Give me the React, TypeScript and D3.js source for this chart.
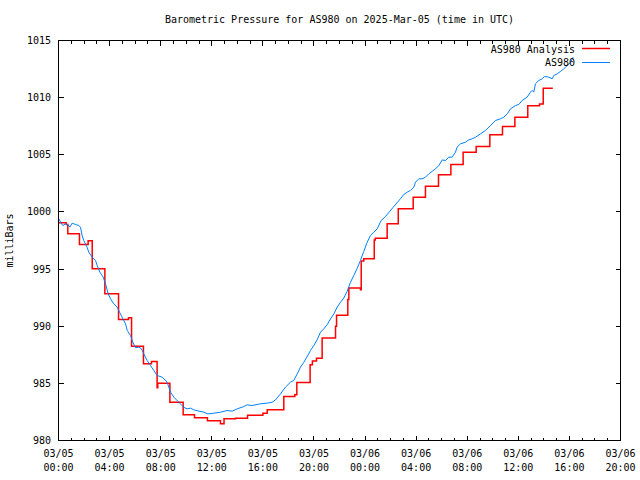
import React from "react";
import * as d3 from "d3";

const TITLE = "Barometric Pressure for AS980 on 2025-Mar-05 (time in UTC)";
const Y_LABEL = "milliBars";
const SERIES_NAMES = ["AS980 Analysis", "AS980"];
const Y_TICKS = [980, 985, 990, 995, 1000, 1005, 1010, 1015];

// hours since 2025-03-05 00:00 UTC
const analysisHours = [
  0, 0.6, 0.73, 1.64, 2.32, 2.64, 3.63, 4.7, 5.48, 5.72, 6.65, 7.28, 7.72, 7.77,
  8.72, 9.76, 10.65, 11.66, 12.68, 12.96, 13.86, 14.8, 16.0, 16.34, 17.64, 18.5,
  18.66, 19.7, 19.88, 20.2, 20.64, 21.69, 21.77, 22.65, 22.73, 23.64, 23.7, 23.9,
  24.72, 24.8, 25.73, 26.6, 27.77, 28.73, 29.75, 30.72, 31.68, 32.7, 33.77, 34.76,
  35.73, 36.74, 37.66, 37.95, 38.7,
];
const analysisValues = [
  999.05, 998.9, 998.08, 997.15, 997.47, 995.02, 992.83, 990.59, 990.73, 988.25,
  986.71, 986.91, 984.61, 985.02, 983.35, 982.25, 981.98, 981.72, 981.46, 981.9,
  981.95, 982.2, 982.39, 982.68, 983.85, 984.0, 985.07, 986.62, 986.95, 987.2,
  988.97, 990.0, 990.95, 992.34, 993.35, 993.2, 995.7, 995.9, 997.55, 997.7,
  998.96, 1000.27, 1001.29, 1002.25, 1003.25, 1004.15, 1005.23, 1005.72, 1006.75,
  1007.47, 1008.29, 1009.28, 1009.45, 1010.83, 1010.83,
];

const obsHours = [
  0.03, 0.16, 0.34, 0.55, 0.81, 0.89, 1.07, 1.33, 1.59, 1.72, 1.85, 1.98, 2.24,
  2.37, 2.64, 2.9, 3.03, 3.24, 3.5, 3.68, 3.89, 4.07, 4.33, 4.59, 4.78, 4.98, 5.25,
  5.38, 5.64, 5.82, 6.03, 6.29, 6.5, 6.68, 6.94, 7.2, 7.46, 7.72, 8.12, 8.51, 8.77,
  9.03, 9.42, 9.81, 10.07, 10.33, 10.6, 10.99, 11.38, 11.69, 12.16, 12.68, 13.2,
  13.6, 13.99, 14.51, 14.77, 15.16, 15.81, 16.34, 16.73, 16.99, 17.38, 17.77,
  18.16, 18.42, 18.69, 18.95, 19.21, 19.47, 19.73, 19.99, 20.25, 20.51, 20.77,
  21.04, 21.3, 21.56, 21.82, 22.08, 22.34, 22.6, 22.86, 23.12, 23.39, 23.64, 23.9,
  24.17, 24.43, 24.69, 24.95, 25.26, 25.6, 25.9, 26.2, 26.5, 26.77, 27.03, 27.3,
  27.56, 27.82, 27.95, 28.21, 28.47, 28.73, 28.99, 29.26, 29.52, 29.78, 30.04,
  30.3, 30.56, 30.82, 31.08, 31.21, 31.47, 31.86, 32.12, 32.39, 32.65, 33.04,
  33.43, 33.82, 34.21, 34.6, 34.86, 35.13, 35.39, 35.78, 36.04, 36.3, 36.69, 36.95,
  37.08, 37.21, 37.34, 37.6, 37.87, 38.05, 38.39, 38.65, 38.78, 39.04, 39.3, 39.56,
  39.83, 40.09, 40.3,
];
const obsValues = [
  999.4, 999.1, 998.81, 998.96, 998.81, 998.67, 999.02, 998.9, 998.81, 998.67,
  997.94, 997.5, 996.91, 996.48, 996.04, 995.75, 995.31, 994.73, 994.29, 993.71,
  992.83, 992.4, 991.96, 991.67, 991.23, 990.79, 990.21, 989.63, 989.19, 988.6,
  988.11, 988.17, 988.02, 987.58, 987.0, 986.56, 986.13, 985.69, 985.54, 985.1,
  984.23, 983.79, 983.35, 982.9, 982.77, 982.83, 982.68, 982.57, 982.48, 982.33,
  982.39, 982.48, 982.62, 982.57, 982.77, 982.97, 983.12, 983.06, 983.21, 983.27,
  983.35, 983.56, 984.08, 984.67, 985.1, 985.25, 985.83, 986.42, 986.85, 987.35,
  987.88, 988.31, 988.81, 989.48, 989.77, 990.15, 990.64, 991.08, 991.67, 992.1,
  992.47, 993.05, 993.85, 994.44, 995.08, 995.75, 996.55, 997.35, 997.94, 998.23,
  998.52, 999.25, 999.6, 1000.0, 1000.4, 1000.8, 1001.15, 1001.52, 1001.73,
  1001.88, 1002.17, 1002.6, 1002.9, 1002.9, 1003.04, 1003.33, 1003.56, 1003.77,
  1004.06, 1004.55, 1004.5, 1004.79, 1004.79, 1005.23, 1005.67, 1005.96, 1006.1,
  1006.31, 1006.4, 1006.54, 1006.83, 1007.13, 1007.56, 1008.0, 1008.15, 1008.29,
  1008.58, 1009.02, 1009.31, 1009.4, 1009.75, 1010.04, 1010.48, 1010.63, 1010.48,
  1011.21, 1011.5, 1011.65, 1011.85, 1011.79, 1011.65, 1011.94, 1012.08, 1012.29,
  1012.52, 1012.81, 1013.1, 1013.54,
];

const T0 = Date.UTC(2025, 2, 5, 0, 0);
const HOUR = 3600e3;
const toDate = (h: number) => new Date(T0 + h * HOUR);

export default function App() {
  const W = 640, H = 480;
  const L = 58.5, R = 620.5, T = 40.5, B = 440.5;
  const x = d3.scaleUtc().domain([toDate(0), toDate(44)]).range([L, R]);
  const y = d3.scaleLinear().domain([980, 1015]).range([B, T]);

  const analysis = analysisHours.map((h, i) => ({ d: toDate(h), v: analysisValues[i] }));
  const obs = obsHours.map((h, i) => ({ d: toDate(h), v: obsValues[i] }));

  const stepLine = d3
    .line<{ d: Date; v: number }>()
    .x((p) => x(p.d))
    .y((p) => y(p.v))
    .curve(d3.curveStepAfter);
  const line = d3
    .line<{ d: Date; v: number }>()
    .x((p) => x(p.d))
    .y((p) => y(p.v));

  const minorTicks = x.ticks(d3.utcHour.every(1)!);
  const majorTicks = x.ticks(d3.utcHour.every(4)!);
  const fmtDate = d3.utcFormat("%m/%d");
  const fmtTime = d3.utcFormat("%H:%M");
  const font = "'DejaVu Sans Mono', 'Liberation Mono', monospace";
  const isMajor = (t: Date) => t.getUTCHours() % 4 === 0;

  return (
    <svg
      width={W}
      height={H}
      style={{ position: "absolute", left: 0, top: 0, background: "#fff" }}
      fontFamily={font}
      fontSize={10}
    >
      <rect x={0} y={0} width={W} height={H} fill="#fff" />
      <text x={(L + R) / 2} y={23} textAnchor="middle" fill="#000">
        {TITLE}
      </text>
      <text
        transform={`translate(13,${(T + B) / 2}) rotate(-90)`}
        textAnchor="middle"
        fill="#000"
      >
        {Y_LABEL}
      </text>

      <g stroke="#000" strokeWidth={1} shapeRendering="crispEdges">
        {minorTicks.map((t, i) => {
          const len = isMajor(t) ? 5 : 3;
          const xx = Math.round(x(t) - 0.5) + 0.5;
          return (
            <g key={"xt" + i}>
              <line x1={xx} x2={xx} y1={B} y2={B - len} />
              <line x1={xx} x2={xx} y1={T} y2={T + len} />
            </g>
          );
        })}
        {Y_TICKS.map((v, i) => {
          const yy = Math.round(y(v) - 0.5) + 0.5;
          return (
            <g key={"yt" + i}>
              <line x1={L} x2={L + 5} y1={yy} y2={yy} />
              <line x1={R} x2={R - 5} y1={yy} y2={yy} />
            </g>
          );
        })}
      </g>

      {Y_TICKS.map((v, i) => (
        <text key={"yl" + i} x={51} y={y(v)} dy="0.35em" textAnchor="end" fill="#000">
          {v}
        </text>
      ))}
      {majorTicks.map((t, i) => (
        <g key={"xl" + i}>
          <text x={x(t)} y={457} textAnchor="middle" fill="#000">
            {fmtDate(t)}
          </text>
          <text x={x(t)} y={471} textAnchor="middle" fill="#000">
            {fmtTime(t)}
          </text>
        </g>
      ))}

      <path d={stepLine(analysis) ?? ""} fill="none" stroke="#ff0000" strokeWidth={1.5} />
      <path d={line(obs) ?? ""} fill="none" stroke="#0080ff" strokeWidth={1} />

      <rect
        x={L}
        y={T}
        width={R - L}
        height={B - T}
        fill="none"
        stroke="#000"
        strokeWidth={1}
        shapeRendering="crispEdges"
      />

      <g>
        <text x={575} y={49} dy="0.35em" textAnchor="end" fill="#000">
          {SERIES_NAMES[0]}
        </text>
        <line x1={582} x2={610} y1={48.5} y2={48.5} stroke="#ff0000" strokeWidth={1.5} />
        <text x={575} y={62} dy="0.35em" textAnchor="end" fill="#000">
          {SERIES_NAMES[1]}
        </text>
        <line x1={582} x2={610} y1={62.5} y2={62.5} stroke="#0080ff" strokeWidth={1} />
      </g>
    </svg>
  );
}
